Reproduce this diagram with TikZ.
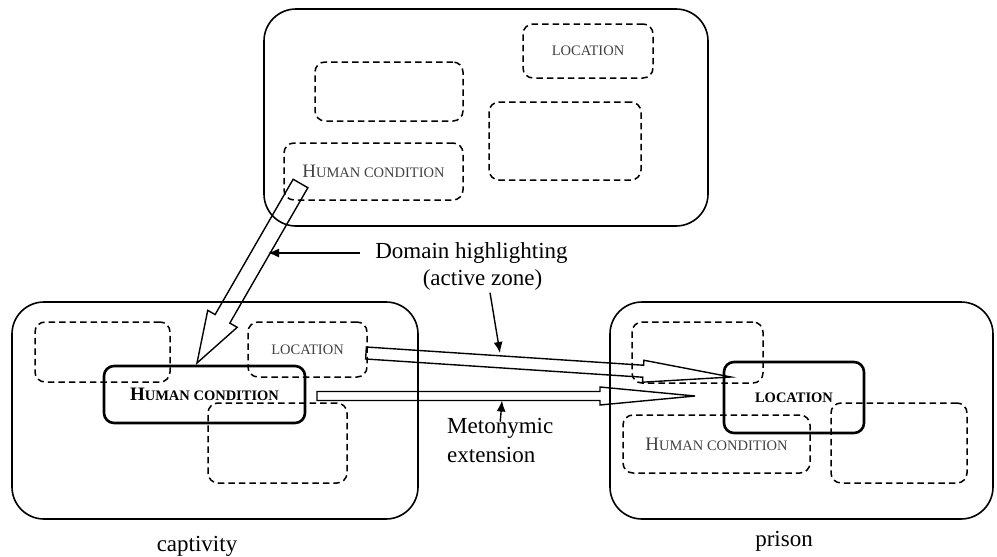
\documentclass[tikz,border=0pt]{standalone}
\usepackage{fontspec}
\setmainfont{Liberation Serif}
\usetikzlibrary{calc,arrows.meta}
\tikzstyle{frame}=[draw, line width=1.6pt, rounded corners=32pt]
\tikzstyle{sub}=[draw, line width=1.5pt, dash pattern=on 6.5pt off 4pt, rounded corners=10pt, inner sep=0pt, text=black!75]
\tikzstyle{zone}=[draw, line width=2.6pt, rounded corners=10pt, inner sep=0pt, font=\bfseries]
\tikzstyle{lab}=[inner sep=2pt, font=\fontsize{23}{27}\selectfont]
\tikzstyle{hollowarrow}=[line width=1.4pt, line join=miter]
\tikzstyle{pointer}=[line width=1.4pt, -{Latex[length=11pt,width=9pt]}]

% big first letter, the rest in small capitals
\newcommand{\hsc}[2]{{\fontsize{19}{22}\selectfont #1}{\fontsize{14.5}{17}\selectfont #2}}
% hollow arrow: start, tip, shaft half width, head half width, head length
\newcommand{\hollow}[5]{%
  \coordinate (hb) at ($(#2)!#5!(#1)$);
  \draw[hollowarrow] ($(#1)!#3!90:(#2)$) -- ($(hb)!#3!90:(#2)$) -- ($(hb)!#4!90:(#2)$) -- (#2)
    -- ($(hb)!#4!-90:(#2)$) -- ($(hb)!#3!-90:(#2)$) -- ($(#1)!#3!-90:(#2)$) -- cycle;}

\begin{document}
\begin{tikzpicture}[x=1pt, y=-1pt]
				\useasboundingbox (0,0) rectangle (997,557);
				
				%The source domain
				\node[frame, minimum width=444pt, minimum height=217pt] (top) at (486,117.5) {};
				\node[sub, minimum width=130pt, minimum height=54pt] (tLoc) at (588,51) {\hsc{}{LOCATION}};
				\node[sub, minimum width=148pt, minimum height=59pt] (tA) at (389,91.5) {};
				\node[sub, minimum width=152pt, minimum height=78pt] (tB) at (565,141) {};
				\node[sub, minimum width=179pt, minimum height=57pt] (tHum) at (373.5,171.5) {\hsc{H}{UMAN CONDITION}};
				
				%captivity
				\node[frame, minimum width=406pt, minimum height=217pt] (capt) at (215,410.5) {};
				\node[sub, minimum width=135pt, minimum height=60pt] (lA) at (102.5,352) {};
				\node[sub, minimum width=119pt, minimum height=55pt] (lLoc) at (307.5,349.5) {\hsc{}{LOCATION}};
				\node[sub, minimum width=139pt, minimum height=80pt] (lB) at (277.5,443) {};
				\node[zone, minimum width=201pt, minimum height=57pt] (lHum) at (204.5,394.5) {\hsc{H}{UMAN CONDITION}};
				\node[lab] (captl) at (197,546) {captivity};
				
				%prison
				\node[frame, minimum width=383pt, minimum height=217pt] (pris) at (801.5,410.5) {};
				\node[sub, minimum width=131pt, minimum height=61pt] (rA) at (697.5,352.5) {};
				\node[sub, minimum width=187pt, minimum height=58pt] (rHum) at (716.5,444) {\hsc{H}{UMAN CONDITION}};
				\node[sub, minimum width=136pt, minimum height=80pt] (rB) at (899,443) {};
				\node[zone, minimum width=140pt, minimum height=71pt] (rLoc) at (794,397.5) {\hsc{}{LOCATION}};
				\node[lab] (prisl) at (784,541) {prison};
				
				%The hollow arrows
				\coordinate (hcs) at (300.5,183.5);
				\coordinate (hct) at (197,363);
				\coordinate (lcs) at (366,353);
				\coordinate (lct) at (731,377);
				\coordinate (mes) at (317,396);
				\coordinate (met) at (695,396);
				\hollow{hcs}{hct}{8.5pt}{17pt}{51pt}
				\hollow{lcs}{lct}{6pt}{11pt}{88pt}
				\hollow{mes}{met}{4.5pt}{9pt}{95pt}
				
				%The labels
				\node[lab] (dom) at (471.5,253) {Domain highlighting};
				\node[lab] (act) at (482.5,280) {(active zone)};
				\node[lab, anchor=west] (meto) at (445,428) {Metonymic};
				\node[lab, anchor=west] (ext) at (445,455) {extension};
				\coordinate (domp) at (268,253);
				\coordinate (actp) at (500,353);
				\coordinate (metp) at (502,400.5);
				\draw[pointer] ([xshift=-13pt]dom.west) -- (domp);
				\draw[pointer] ([xshift=7.5pt]act.south) -- (actp);
				\draw[pointer] ([yshift=-6pt]meto.north) -- (metp);
			\end{tikzpicture}
\end{document}
